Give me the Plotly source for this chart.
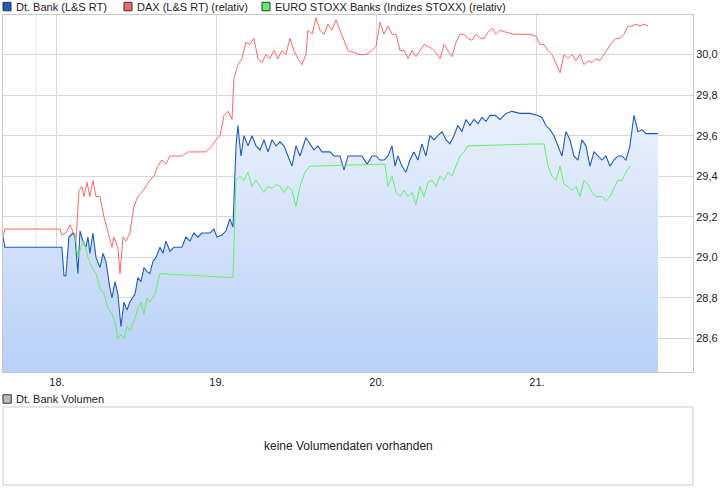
import plotly.graph_objects as go

# time in days of month (fractional), values in EUR
bank_t = [17.663, 17.675, 18.0, 18.031, 18.044, 18.056, 18.075, 18.1, 18.113, 18.131, 18.144, 18.163,
          18.181, 18.194, 18.206, 18.225, 18.244, 18.269, 18.288, 18.306, 18.331, 18.344, 18.363, 18.381,
          18.4, 18.419, 18.438, 18.456, 18.488, 18.506, 18.525, 18.544, 18.563, 18.581, 18.6, 18.619,
          18.644, 18.663, 18.681, 18.706, 18.731, 18.756, 18.781, 18.806, 18.831, 18.856, 18.881, 18.906,
          18.931, 18.956, 18.981, 19.0, 19.031, 19.056, 19.081, 19.1, 19.119, 19.131, 19.15, 19.169,
          19.194, 19.219, 19.244, 19.269, 19.294, 19.319, 19.344, 19.369, 19.394, 19.419, 19.444, 19.469,
          19.494, 19.519, 19.556, 19.581, 19.606, 19.631, 19.656, 19.681, 19.706, 19.731, 19.769, 19.794,
          19.819, 19.863, 19.906, 19.938, 19.969, 19.994, 20.019, 20.044, 20.069, 20.094, 20.113, 20.131,
          20.156, 20.181, 20.206, 20.231, 20.256, 20.281, 20.306, 20.331, 20.356, 20.381, 20.406, 20.431,
          20.456, 20.481, 20.506, 20.531, 20.556, 20.581, 20.606, 20.631, 20.656, 20.681, 20.706, 20.738,
          20.769, 20.806, 20.844, 20.894, 20.956, 21.006, 21.031, 21.056, 21.081, 21.106, 21.131, 21.156,
          21.181, 21.206, 21.231, 21.256, 21.281, 21.306, 21.331, 21.356, 21.381, 21.406, 21.431, 21.456,
          21.481, 21.506, 21.531, 21.556, 21.581, 21.606, 21.631, 21.656, 21.681, 21.706, 21.756]
bank_v = [29.1, 29.05, 29.05, 29.05, 28.91, 28.91, 29.1, 29.12, 29.1, 28.92, 29.13, 29.08,
          29.05, 29.1, 29.02, 29.12, 29.0, 28.95, 29.02, 28.98, 28.85, 28.8, 28.88, 28.82,
          28.66, 28.78, 28.74, 28.78, 28.82, 28.9, 28.88, 28.95, 28.93, 28.92, 28.98, 29.0,
          29.05, 29.02, 29.08, 29.03, 29.05, 29.05, 29.05, 29.1, 29.08, 29.12, 29.1, 29.12,
          29.12, 29.12, 29.14, 29.1, 29.11, 29.13, 29.19, 29.15, 29.55, 29.65, 29.5, 29.6,
          29.55, 29.6, 29.55, 29.53, 29.58, 29.52, 29.58, 29.55, 29.57, 29.55, 29.5, 29.45,
          29.55, 29.5, 29.59, 29.56, 29.53, 29.55, 29.52, 29.52, 29.52, 29.5, 29.5, 29.43,
          29.5, 29.5, 29.5, 29.46, 29.5, 29.5, 29.48, 29.48, 29.5, 29.55, 29.45, 29.5,
          29.45, 29.42, 29.48, 29.52, 29.48, 29.56, 29.5, 29.6, 29.58, 29.6, 29.62, 29.58,
          29.56, 29.6, 29.65, 29.62, 29.68, 29.65, 29.68, 29.66, 29.69, 29.67, 29.7, 29.7,
          29.68, 29.71, 29.72, 29.71, 29.71, 29.7, 29.69, 29.65, 29.63, 29.6, 29.55, 29.5,
          29.62, 29.58, 29.5, 29.48, 29.58, 29.55, 29.45, 29.52, 29.5, 29.48, 29.5, 29.45,
          29.48, 29.5, 29.5, 29.48, 29.55, 29.7, 29.62, 29.63, 29.61, 29.61, 29.61]

dax_t = [17.663, 17.675, 18.019, 18.031, 18.056, 18.081, 18.106, 18.119, 18.138, 18.156, 18.169, 18.188,
         18.206, 18.225, 18.244, 18.269, 18.294, 18.319, 18.344, 18.356, 18.381, 18.394, 18.413, 18.431,
         18.456, 18.481, 18.506, 18.531, 18.556, 18.581, 18.606, 18.631, 18.656, 18.681, 18.706, 18.744,
         18.781, 18.819, 18.856, 18.894, 18.931, 18.969, 18.994, 19.019, 19.044, 19.069, 19.094, 19.106,
         19.131, 19.156, 19.181, 19.206, 19.231, 19.256, 19.281, 19.306, 19.331, 19.356, 19.381, 19.406,
         19.431, 19.456, 19.481, 19.506, 19.531, 19.556, 19.569, 19.594, 19.619, 19.644, 19.669, 19.694,
         19.719, 19.744, 19.769, 19.794, 19.819, 19.856, 19.894, 19.931, 19.969, 19.994, 20.019, 20.044,
         20.069, 20.094, 20.119, 20.144, 20.169, 20.194, 20.219, 20.244, 20.269, 20.294, 20.319, 20.344,
         20.369, 20.394, 20.419, 20.444, 20.469, 20.494, 20.519, 20.544, 20.569, 20.594, 20.619, 20.644,
         20.669, 20.694, 20.719, 20.744, 20.769, 20.806, 20.856, 20.894, 20.956, 20.994, 21.019, 21.044,
         21.069, 21.094, 21.119, 21.144, 21.169, 21.194, 21.219, 21.244, 21.269, 21.294, 21.319, 21.344,
         21.369, 21.394, 21.419, 21.444, 21.469, 21.494, 21.519, 21.544, 21.569, 21.594, 21.619, 21.644,
         21.669, 21.694]
dax_v = [29.1, 29.14, 29.14, 29.11, 29.12, 29.16, 29.12, 29.08, 29.33, 29.35, 29.3, 29.37,
         29.3, 29.38, 29.3, 29.3, 29.2, 29.12, 29.05, 29.1, 29.05, 28.92, 29.1, 29.08,
         29.12, 29.25, 29.3, 29.32, 29.35, 29.38, 29.4, 29.45, 29.48, 29.46, 29.5, 29.5,
         29.5, 29.52, 29.52, 29.52, 29.52, 29.55, 29.58, 29.6, 29.7, 29.72, 29.68, 29.88,
         29.95, 29.98, 30.06, 30.05, 30.08, 29.98, 29.96, 30.0, 29.98, 30.02, 29.98, 30.02,
         30.0, 30.08, 30.02, 29.98, 29.95, 30.0, 30.12, 30.1, 30.18, 30.12, 30.1, 30.15,
         30.12, 30.17, 30.12, 30.08, 30.02, 30.01, 30.0, 30.0, 30.02, 30.04, 30.16, 30.1,
         30.14, 30.1, 30.1, 30.02, 30.02, 29.98, 30.02, 29.99, 30.02, 30.05, 30.04, 30.03,
         30.01, 29.98, 30.05, 30.02, 29.99, 30.06, 30.1, 30.1, 30.08, 30.07, 30.1, 30.08,
         30.08, 30.11, 30.13, 30.1, 30.12, 30.11, 30.1, 30.1, 30.1, 30.09, 30.05, 30.05,
         30.02, 30.0, 29.95, 29.91, 30.0, 29.98, 30.0, 29.97, 30.0, 29.95, 29.97, 29.96,
         29.98, 29.97, 30.0, 30.03, 30.06, 30.08, 30.08, 30.1, 30.14, 30.14, 30.15, 30.14,
         30.15, 30.14]

banks_t = [18.113, 18.131, 18.15, 18.169, 18.194, 18.219, 18.244, 18.269, 18.294, 18.319, 18.344, 18.363,
           18.381, 18.4, 18.419, 18.438, 18.456, 18.488, 18.506, 18.525, 18.544, 18.563, 18.581, 18.613,
           18.644, 19.1, 19.119, 19.144, 19.169, 19.194, 19.219, 19.244, 19.269, 19.294, 19.319, 19.344,
           19.369, 19.394, 19.419, 19.444, 19.469, 19.494, 19.519, 19.55, 19.581, 19.606, 20.05, 20.069,
           20.094, 20.119, 20.144, 20.169, 20.194, 20.219, 20.244, 20.269, 20.294, 20.319, 20.344, 20.369,
           20.394, 20.419, 20.444, 20.469, 20.494, 20.519, 20.544, 20.569, 21.044, 21.069, 21.094, 21.119,
           21.144, 21.169, 21.194, 21.219, 21.244, 21.269, 21.294, 21.319, 21.344, 21.369, 21.406, 21.431,
           21.456, 21.481, 21.506, 21.531, 21.556, 21.581]
banks_v = [29.12, 29.0, 29.05, 29.08, 29.0, 28.95, 28.92, 28.85, 28.82, 28.75, 28.72, 28.68,
           28.6, 28.62, 28.6, 28.66, 28.64, 28.7, 28.75, 28.78, 28.72, 28.8, 28.78, 28.82,
           28.92, 28.9, 29.38, 29.4, 29.38, 29.42, 29.35, 29.38, 29.35, 29.32, 29.35, 29.34,
           29.36, 29.35, 29.32, 29.35, 29.33, 29.25, 29.35, 29.42, 29.45, 29.45, 29.46, 29.35,
           29.4, 29.32, 29.3, 29.33, 29.3, 29.32, 29.26, 29.35, 29.3, 29.37, 29.38, 29.35,
           29.4, 29.38, 29.42, 29.4, 29.45, 29.5, 29.52, 29.55, 29.56, 29.45, 29.4, 29.38,
           29.45, 29.36, 29.35, 29.33, 29.35, 29.3, 29.38, 29.36, 29.32, 29.3, 29.3, 29.28,
           29.3, 29.34, 29.38, 29.38, 29.42, 29.45]

day_ticks = [18, 19, 20, 21]
day_labels = ['18.', '19.', '20.', '21.']
y_ticks = [28.6, 28.8, 29.0, 29.2, 29.4, 29.6, 29.8, 30.0]

series_names = ['Dt. Bank (L&S RT)', 'DAX (L&S RT) (relativ)',
                'EURO STOXX Banks (Indizes STOXX) (relativ)']

BLUE = '#1f5bbf'
RED = '#ff6666'
GREEN = '#66ee66'
FONT = 'Liberation Sans, Arial, sans-serif'

fig = go.Figure()

fig.add_trace(go.Scatter(
    x=bank_t, y=[28.434] * len(bank_t), mode='lines', line=dict(width=0),
    showlegend=False, hoverinfo='skip'))
fig.add_trace(go.Scatter(
    x=bank_t, y=bank_v, mode='lines', line=dict(color=BLUE, width=1.1),
    fill='tonexty', name=series_names[0],
    fillgradient=dict(type='vertical', start=28.434, stop=29.72,
                      colorscale=[[0, '#b8d0f7'], [1, '#e9f0fc']]),
    showlegend=False))
fig.add_trace(go.Scatter(x=dax_t, y=dax_v, mode='lines', name=series_names[1],
                         line=dict(color=RED, width=1), showlegend=False))
fig.add_trace(go.Scatter(x=banks_t, y=banks_v, mode='lines', name=series_names[2],
                         line=dict(color=GREEN, width=1), showlegend=False))

# hand-built legend along the top edge (paper coords: plot spans 690 px wide)
shapes = []
annotations = []
for name, col, px in zip(series_names, [BLUE, RED, GREEN], [3, 124, 262]):
    x0 = (px - 3) / 690
    shapes.append(dict(type='rect', xref='paper', yref='paper',
                       x0=x0, x1=x0 + 8 / 690, y0=1.009, y1=1.027,
                       fillcolor=col, line=dict(color='#333', width=1)))
    annotations.append(dict(text=name, xref='paper', yref='paper', x=x0 + 11 / 690,
                            y=1.018, xanchor='left', yanchor='middle',
                            showarrow=False, font=dict(size=11)))

shapes += [
    dict(type='line', xref='x', yref='paper', x0=17.87, x1=17.87, y0=0.24, y1=1.0,
         line=dict(color='#e4e4e4', width=1), layer='below'),
    dict(type='rect', xref='paper', yref='paper', x0=0, x1=1, y0=0, y1=0.166,
         line=dict(color='#c8c8c8', width=1)),
    dict(type='rect', xref='paper', yref='paper', x0=0.0, x1=0.012, y0=0.174, y1=0.192,
         fillcolor='#bbbbbb', line=dict(color='#333', width=1)),
]
annotations += [
    dict(text='Dt. Bank Volumen', xref='paper', yref='paper', x=0.016, y=0.183,
         xanchor='left', yanchor='middle', showarrow=False, font=dict(size=11)),
    dict(text='keine Volumendaten vorhanden', xref='paper', yref='paper', x=0.5,
         y=0.083, xanchor='center', yanchor='middle', showarrow=False,
         font=dict(size=12)),
]

fig.update_layout(
    width=726, height=496,
    margin=dict(l=3, r=33, t=15, b=11),
    paper_bgcolor='white', plot_bgcolor='white',
    separators=',.',
    showlegend=False,
    font=dict(family=FONT, size=11, color='#222'),
    xaxis=dict(range=[17.663, 21.975], tickvals=day_ticks, ticktext=day_labels,
               showgrid=True, gridcolor='#d8d8d8', zeroline=False,
               showline=True, linecolor='#c8c8c8', mirror=True, ticks='',
               tickfont=dict(size=11, color='#222')),
    yaxis=dict(range=[28.434, 30.195], tickvals=y_ticks, tickformat='.1f',
               side='right', showgrid=True, gridcolor='#d8d8d8', zeroline=False,
               showline=True, linecolor='#c8c8c8', mirror=True, ticks='',
               domain=[0.24, 1.0], tickfont=dict(size=11, color='#222')),
    xaxis2=dict(range=[0, 1], visible=False, anchor='y2'),
    yaxis2=dict(range=[0, 1], visible=False, domain=[0.0, 0.166], anchor='x2'),
    shapes=shapes,
    annotations=annotations,
)

fig.write_html('out.html', config={'displayModeBar': False},
               post_script="document.body.style.margin='0';")
